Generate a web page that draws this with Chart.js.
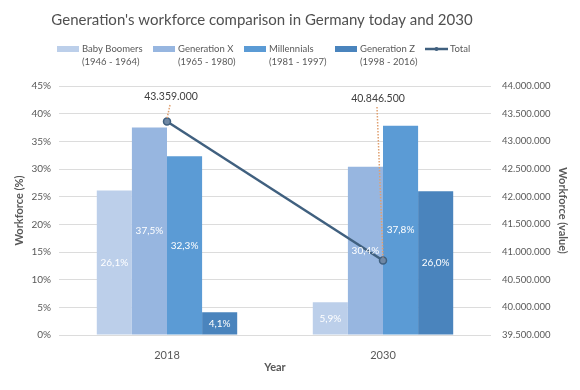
<!DOCTYPE html>
<html>
<head>
<meta charset="utf-8">
<script src="https://cdn.jsdelivr.net/npm/chart.js@4.4.1/dist/chart.umd.min.js"></script>
<style>
  body { margin: 0; background: #fff; }
  #wrap { width: 580px; height: 390px; }
</style>
</head>
<body>
<div id="wrap"><canvas id="myChart" width="580" height="390"></canvas></div>
<script>
// data
var years = ['2018', '2030'];
var generations = ['Baby Boomers', 'Generation X', 'Millennials', 'Generation Z'];
var genRanges = ['(1946 - 1964)', '(1965 - 1980)', '(1981 - 1997)', '(1998 - 2016)'];
var babyBoomers = [26.1, 5.9];
var generationX = [37.5, 30.4];
var millennials = [32.3, 37.8];
var generationZ = [4.1, 26.0];
var totalWorkforce = [43359000, 40846500];

var barColors = ['#bccfea', '#97b6e0', '#5b9bd5', '#4a84bd'];
var lineColor = '#40607f';
var textGrey = '#595959';
var fontName = 'Lato, "Open Sans", sans-serif';

function fmtPct(v) {
    return v.toFixed(1).replace('.', ',') + '%';
}
function fmtNum(v) {
    return v.toLocaleString('de-DE');
}

var seriesValues = [babyBoomers, generationX, millennials, generationZ];
var datasets = seriesValues.map(function (vals, i) {
    return {
        type: 'bar',
        label: generations[i],
        data: vals,
        backgroundColor: barColors[i],
        yAxisID: 'y',
        order: 1,
        barPercentage: 1,
        categoryPercentage: 0.65
    };
});
datasets.push({
    type: 'line',
    label: 'Total',
    data: totalWorkforce,
    borderColor: lineColor,
    borderWidth: 2.5,
    pointRadius: 3.5,
    pointBorderWidth: 1.5,
    pointBackgroundColor: '#6f88a5',
    pointBorderColor: lineColor,
    yAxisID: 'y1',
    order: 0
});

// title, legend and value labels
var extras = {
    id: 'extras',
    afterDatasetsDraw: function (chart) {
        var ctx = chart.ctx;
        ctx.save();

        // bar value labels
        ctx.fillStyle = '#ffffff';
        ctx.font = '10px ' + fontName;
        ctx.textAlign = 'center';
        ctx.textBaseline = 'middle';
        for (var d = 0; d < 4; d++) {
            var meta = chart.getDatasetMeta(d);
            meta.data.forEach(function (bar, j) {
                var mid = (bar.y + bar.base) / 2;
                ctx.fillText(fmtPct(seriesValues[d][j]), bar.x, mid);
            });
        }

        // total labels with dotted leaders
        var lm = chart.getDatasetMeta(4);
        var labelPos = [[171, 97], [378, 99]];
        lm.data.forEach(function (pt, j) {
            var lx = labelPos[j][0], ly = labelPos[j][1];
            ctx.strokeStyle = '#e0a070';
            ctx.lineWidth = 1.5;
            ctx.setLineDash([1.5, 1.5]);
            ctx.beginPath();
            ctx.moveTo(lx - 1, ly + 8);
            ctx.lineTo(pt.x, pt.y - 3);
            ctx.stroke();
            ctx.setLineDash([]);
            ctx.fillStyle = '#404040';
            ctx.font = '10.5px ' + fontName;
            ctx.fillText(fmtNum(totalWorkforce[j]), lx, ly);
        });
        ctx.restore();
    },
    beforeDraw: function (chart) {
        var ctx = chart.ctx;
        ctx.save();
        ctx.fillStyle = '#ffffff';
        ctx.fillRect(0, 0, chart.width, chart.height);

        ctx.fillStyle = '#505050';
        ctx.textAlign = 'center';
        ctx.textBaseline = 'middle';
        ctx.font = '15px ' + fontName;
        ctx.fillText("Generation's workforce comparison in Germany today and 2030", 262, 20);

        // legend
        var sw = [57, 153, 244, 335];
        ctx.font = '9.5px ' + fontName;
        ctx.textAlign = 'left';
        for (var i = 0; i < 4; i++) {
            ctx.fillStyle = barColors[i];
            ctx.fillRect(sw[i], 46, 22, 6);
            ctx.fillStyle = textGrey;
            ctx.fillText(generations[i], sw[i] + 25, 49);
            ctx.fillText(genRanges[i], sw[i] + 25, 62);
        }
        ctx.strokeStyle = lineColor;
        ctx.lineWidth = 2.5;
        ctx.beginPath();
        ctx.moveTo(425, 49);
        ctx.lineTo(448, 49);
        ctx.stroke();
        ctx.fillStyle = lineColor;
        ctx.beginPath();
        ctx.arc(436.5, 49, 2, 0, Math.PI * 2);
        ctx.fill();
        ctx.fillStyle = textGrey;
        ctx.fillText('Total', 450, 49);
        ctx.restore();
    }
};

var ctx = document.getElementById('myChart').getContext('2d');
var myChart = new Chart(ctx, {
    type: 'bar',
    data: {
        labels: years,
        datasets: datasets
    },
    plugins: [extras],
    options: {
        responsive: false,
        animation: false,
        layout: { padding: { top: 86, left: 0, right: 0, bottom: 0 } },
        plugins: {
            legend: { display: false },
            tooltip: { enabled: false }
        },
        scales: {
            x: {
                offset: true,
                grid: { display: false },
                border: { display: false },
                ticks: { color: textGrey, font: { family: fontName, size: 11 }, padding: 6 },
                title: {
                    display: true, text: 'Year', color: textGrey,
                    font: { family: fontName, size: 11, weight: 'bold' },
                    padding: { top: 4, bottom: 16 }
                },
                afterFit: function (s) { s.height = 55; }
            },
            y: {
                position: 'left',
                min: 0,
                max: 45,
                ticks: {
                    stepSize: 5, color: textGrey, padding: 8,
                    font: { family: fontName, size: 10 },
                    callback: function (v) { return v + '%'; }
                },
                grid: { color: '#dcdcdc', drawTicks: false },
                border: { display: false },
                title: {
                    display: true, text: 'Workforce (%)', color: textGrey,
                    font: { family: fontName, size: 11, weight: 'bold' },
                    padding: { top: 13, bottom: 0 }
                },
                afterFit: function (s) { s.width = 59; }
            },
            y1: {
                position: 'right',
                min: 39500000,
                max: 44000000,
                ticks: {
                    stepSize: 500000, color: textGrey, padding: 11,
                    font: { family: fontName, size: 9.5 },
                    callback: function (v) { return fmtNum(v); }
                },
                grid: { drawOnChartArea: false, drawTicks: false },
                border: { display: false },
                title: {
                    display: true, text: 'Workforce (value)', color: textGrey,
                    font: { family: fontName, size: 11, weight: 'bold' },
                    padding: { top: 11, bottom: 0 }
                },
                afterFit: function (s) { s.width = 89; }
            }
        }
    }
});
</script>
</body>
</html>
